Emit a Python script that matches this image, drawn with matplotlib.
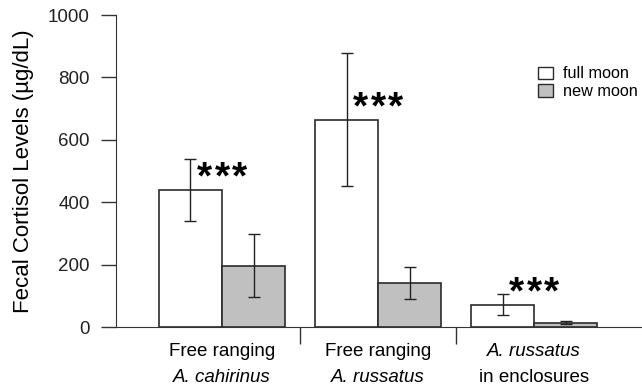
import numpy as np
import matplotlib
matplotlib.use('Agg')
import matplotlib.pyplot as plt
from matplotlib.patches import Patch
import matplotlib.transforms as mtransforms

plt.rcParams['font.family'] = ['Liberation Sans', 'DejaVu Sans']

# datos
grupos_l1 = ['Free ranging', 'Free ranging', 'A. russatus']
grupos_l2 = ['A. cahirinus', 'A. russatus', 'in enclosures']
italica_l1 = [False, False, True]
italica_l2 = [True, True, False]
luna_llena = [440, 665, 72]
err_llena = [99, 212, 33]
luna_nueva = [197, 140, 14]
err_nueva = [100, 51, 4]
n_estrellas = [3, 3, 3]

fig = plt.figure(figsize=(6.42, 3.90), dpi=100)
ax = fig.add_axes([0.1807, 0.1615, 0.8193, 0.8])

x = np.arange(len(luna_llena))
w = 0.404
col_borde = '#2b2b2b'
ekw = dict(elinewidth=1.0, capthick=1.0, ecolor='#222222')

ax.bar(x - w/2, luna_llena, w, yerr=err_llena, color='white', edgecolor=col_borde,
       linewidth=1.2, capsize=4.5, error_kw=ekw, label='full moon')
ax.bar(x + w/2, luna_nueva, w, yerr=err_nueva, color='#c0c0c0', edgecolor=col_borde,
       linewidth=1.2, capsize=4.5, error_kw=ekw, label='new moon')

# asteriscos, uno por uno para separarlos
for i in range(len(x)):
    n = n_estrellas[i]
    for k in range(n):
        dx = (k - (n - 1) / 2) * 12.5
        ax.annotate('*', xy=(x[i], luna_llena[i]), xytext=(dx, 1),
                    textcoords='offset points', ha='center', va='baseline',
                    fontsize=28, fontweight='bold')

ax.set_xlim(-0.679, 2.69)
ax.set_ylim(0, 1000)
ax.set_yticks([0, 200, 400, 600, 800, 1000])
ax.tick_params(axis='y', direction='out', length=11, width=1.0, color='#333333',
               labelsize=13.5, pad=8, labelcolor='#222222')

ax.set_xticks([])
ax.set_xticks([0.5, 1.5], minor=True)
ax.tick_params(axis='x', which='minor', direction='out', length=12, width=1.0,
               color='#333333', labelbottom=False)

trans = mtransforms.blended_transform_factory(ax.transData, fig.transFigure)
for i in range(len(x)):
    ax.text(x[i], 1 - 352/390, grupos_l1[i], transform=trans, ha='center', va='center',
            fontsize=13.5, style='italic' if italica_l1[i] else 'normal')
    ax.text(x[i], 1 - 378/390, grupos_l2[i], transform=trans, ha='center', va='center',
            fontsize=13.5, style='italic' if italica_l2[i] else 'normal')

ax.spines['top'].set_visible(False)
ax.spines['right'].set_visible(False)
ax.spines['left'].set_color('#333333')
ax.spines['bottom'].set_color('#333333')

ax.set_ylabel('Fecal Cortisol Levels (µg/dL)', fontsize=16, labelpad=10)

manejadores = [Patch(facecolor='white', edgecolor=col_borde, linewidth=1.0, label='full moon'),
               Patch(facecolor='#c0c0c0', edgecolor=col_borde, linewidth=1.0, label='new moon')]
ax.legend(handles=manejadores, loc='upper left', bbox_to_anchor=(0.802, 0.835),
          frameon=False, fontsize=11.7, handlelength=0.95, handleheight=0.8,
          handletextpad=0.6, labelspacing=0.15, borderpad=0, borderaxespad=0)

plt.savefig('out.png', dpi=100)
